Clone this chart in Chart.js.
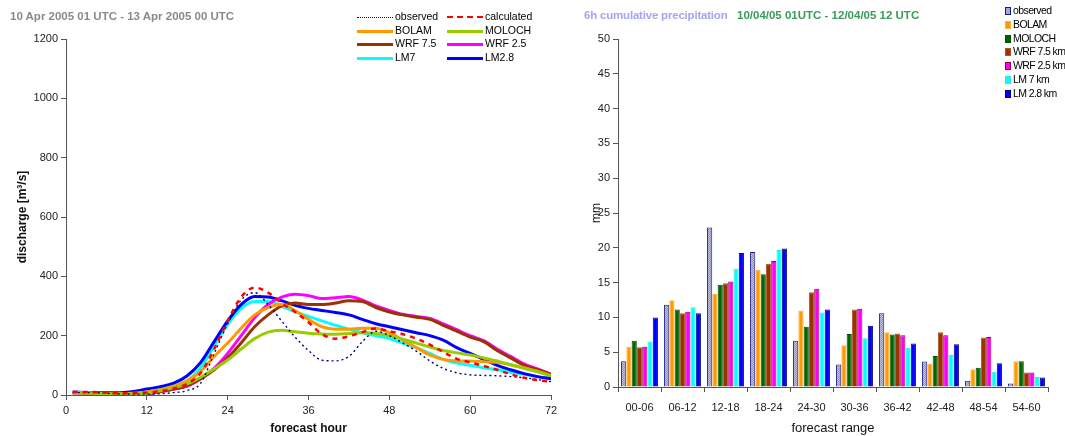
<!DOCTYPE html>
<html>
<head>
<meta charset="utf-8">
<script src="https://cdn.jsdelivr.net/npm/chart.js@4.4.0/dist/chart.umd.min.js"></script>
<style>
  body { margin: 0; background: #fff; font-family: "Liberation Sans", Arial, sans-serif; }
  #wrap { position: relative; width: 1065px; height: 436px; overflow: hidden; }
  #c1 { position: absolute; left: 0; top: 0; }
  #c2 { position: absolute; left: 565px; top: 0; }
  .title { position: absolute; font-weight: bold; font-size: 11.5px; white-space: nowrap; }
  .lg { position: absolute; font-size: 10.5px; color: #000; white-space: nowrap; line-height: 12px; }
  .lg .smp { display: inline-block; vertical-align: middle; width: 36px; margin-right: 2px; }
  .lg2 { position: absolute; font-size: 10.5px; color: #000; white-space: nowrap; line-height: 12px; letter-spacing: -0.6px; }
  .lg2 .sq { display: inline-block; width: 4px; height: 6px; margin-right: 2px; border: 1px solid #000; vertical-align: -1px; }
</style>
</head>
<body>
<div id="wrap">
  <canvas id="c1" width="565" height="436"></canvas>
  <canvas id="c2" width="500" height="436"></canvas>
  <div class="title" style="left:10px;top:10px;color:#8a8a8a;">10 Apr 2005 01 UTC - 13 Apr 2005 00 UTC</div>
  <div class="title" style="left:584px;top:9px;color:#a5a5f0;letter-spacing:-0.2px;">6h cumulative precipitation</div>
  <div class="title" style="left:737px;top:9px;color:#3a9a5c;">10/04/05 01UTC - 12/04/05 12 UTC</div>
  <div id="leg1"></div>
  <div id="leg2"></div>
</div>
<script>
// discharge, forecast hours
const hours = [1, 4, 8, 12, 16, 18, 20, 22, 24, 26, 28, 30, 32, 34, 36, 38, 40, 42, 44, 46, 48, 50, 52, 54, 56, 58, 60, 62, 64, 66, 68, 70, 72];
const observed   = [8, 8, 4, 3, 8, 15, 40, 140, 240, 320, 345, 305, 250, 195, 150, 117, 115, 130, 180, 215, 200, 175, 148, 115, 90, 75, 68, 66, 65, 62, 58, 52, 45];
const calculated = [10, 10, 6, 8, 22, 38, 75, 155, 250, 330, 362, 345, 310, 280, 245, 205, 190, 198, 212, 224, 215, 205, 190, 170, 145, 122, 110, 98, 85, 70, 58, 50, 45];
const bolam      = [8, 6, 4, 10, 30, 48, 80, 130, 175, 225, 270, 295, 305, 285, 255, 230, 222, 222, 225, 225, 210, 185, 160, 135, 120, 115, 115, 112, 110, 102, 92, 80, 65];
const moloch     = [8, 6, 3, 6, 25, 38, 60, 88, 118, 155, 190, 212, 218, 213, 208, 206, 205, 207, 210, 208, 200, 188, 175, 162, 150, 142, 135, 125, 115, 102, 90, 78, 65];
const wrf75      = [8, 6, 3, 5, 20, 32, 55, 85, 125, 175, 230, 270, 300, 310, 305, 305, 310, 318, 315, 295, 280, 270, 262, 255, 235, 215, 195, 180, 150, 125, 100, 85, 70];
const wrf25      = [8, 6, 3, 5, 20, 30, 55, 90, 140, 200, 260, 305, 330, 340, 335, 325, 328, 332, 320, 300, 285, 272, 265, 258, 240, 220, 200, 183, 155, 130, 105, 88, 70];
const lm7        = [8, 6, 4, 10, 32, 48, 92, 165, 238, 292, 315, 315, 300, 280, 265, 250, 235, 222, 210, 200, 190, 175, 160, 140, 120, 108, 100, 92, 85, 77, 70, 62, 55];
const lm28       = [10, 8, 8, 20, 40, 65, 110, 180, 250, 305, 332, 330, 318, 302, 292, 285, 278, 270, 255, 240, 230, 220, 210, 200, 185, 160, 140, 120, 100, 85, 72, 62, 55];

// 6h precipitation (mm)
const ranges = ['00-06', '06-12', '12-18', '18-24', '24-30', '30-36', '36-42', '42-48', '48-54', '54-60'];
const pObs   = [3.7, 11.8, 22.9, 19.4, 6.65, 3.25, 10.6, 3.65, 0.9, 0.5];
const pBolam = [5.8, 12.45, 13.35, 16.85, 11.0, 6.0, 7.85, 3.35, 2.55, 3.7];
const pMoloch= [6.65, 11.15, 14.7, 16.2, 8.65, 7.6, 7.55, 4.45, 2.75, 3.7];
const pWrf75 = [5.7, 10.6, 14.9, 17.7, 13.6, 11.15, 7.7, 7.85, 7.1, 2.1];
const pWrf25 = [5.8, 10.8, 15.15, 18.1, 14.1, 11.25, 7.45, 7.45, 7.2, 2.1];
const pLm7   = [6.55, 11.45, 17.0, 19.7, 10.7, 7.0, 5.65, 4.6, 2.2, 1.45];
const pLm28  = [10.0, 10.6, 19.25, 19.9, 11.15, 8.8, 6.25, 6.15, 3.4, 1.35];

const font = "'Liberation Sans', Arial, sans-serif";
Chart.defaults.font.family = font;
Chart.defaults.color = '#222';

function pts(vals) { return hours.map((h, i) => ({ x: h, y: vals[i] })); }
function line(label, vals, color, width, dash) {
  return { label, data: pts(vals), borderColor: color, backgroundColor: color, borderWidth: width,
    borderDash: dash || [], pointRadius: 0, cubicInterpolationMode: 'monotone', fill: false };
}

const lineSets = [
  line('observed', observed, '#000080', 1.4, [2, 3]),
  line('calculated', calculated, '#ff0000', 2.5, [5, 5]),
  line('BOLAM', bolam, '#ff9900', 3),
  line('MOLOCH', moloch, '#99cc00', 3),
  line('WRF 7.5', wrf75, '#993300', 3),
  line('WRF 2.5', wrf25, '#ff00ff', 3),
  line('LM7', lm7, '#00ffff', 3),
  line('LM2.8', lm28, '#0000ff', 3)
];
// draw order: reference has blue and cyan on top
const drawOrder = [1, 0, 3, 2, 4, 5, 7, 6];
lineSets.forEach((d, i) => { d.order = drawOrder[i]; });

const plain = v => String(v);

new Chart(document.getElementById('c1'), {
  type: 'line',
  data: { datasets: lineSets },
  options: {
    responsive: false, animation: false,
    layout: { padding: { left: 0, top: 39, right: 14, bottom: 0 } },
    plugins: { legend: { display: false }, tooltip: { enabled: false } },
    scales: {
      x: {
        type: 'linear', min: 0, max: 72,
        ticks: { stepSize: 12, font: { size: 11 }, color: '#222', padding: 4, callback: plain },
        grid: { drawOnChartArea: false, tickLength: 5, color: '#555' },
        border: { color: '#555' },
        title: { display: true, text: 'forecast hour', font: { size: 12, weight: 'bold' }, color: '#111', padding: 0 },
        afterFit(s) { s.height = 41; }
      },
      y: {
        min: 0, max: 1200,
        ticks: { stepSize: 200, font: { size: 11 }, color: '#222', padding: 3, callback: plain },
        grid: { drawOnChartArea: false, tickLength: 5, color: '#555' },
        border: { color: '#555' },
        title: { display: true, text: 'discharge [m³/s]', font: { size: 12, weight: 'bold' }, color: '#111', padding: { top: 15, bottom: 0 } },
        afterFit(s) { s.width = 66; }
      }
    }
  }
});

// dotted fill for observed bars
const pc = document.createElement('canvas');
pc.width = 2; pc.height = 2;
const px = pc.getContext('2d');
px.fillStyle = '#c4c4e6'; px.fillRect(0, 0, 2, 2);
px.fillStyle = '#8c8cc0'; px.fillRect(0, 0, 1, 1); px.fillRect(1, 1, 1, 1);
const obsPattern = px.createPattern(pc, 'repeat');

function bar(label, vals, fill, border) {
  return { label, data: vals, backgroundColor: fill, borderColor: border, borderWidth: 1,
    categoryPercentage: 0.86, barPercentage: 0.98 };
}
const barSets = [
  bar('observed', pObs, obsPattern, '#1a1a8a'),
  bar('BOLAM', pBolam, '#ff9900', '#ffb040'),
  bar('MOLOCH', pMoloch, '#006600', '#004d00'),
  bar('WRF 7.5 km', pWrf75, '#993300', '#b05a30'),
  bar('WRF 2.5 km', pWrf25, '#ff00ff', '#99003d'),
  bar('LM 7 km', pLm7, '#00ffff', '#40e0e0'),
  bar('LM 2.8 km', pLm28, '#0000ff', '#00007a')
];

new Chart(document.getElementById('c2'), {
  type: 'bar',
  data: { labels: ranges, datasets: barSets },
  options: {
    responsive: false, animation: false,
    layout: { padding: { left: 0, top: 39, right: 17, bottom: 0 } },
    plugins: { legend: { display: false }, tooltip: { enabled: false } },
    scales: {
      x: {
        ticks: { font: { size: 11 }, color: '#222', padding: 9 },
        grid: { drawOnChartArea: false, tickLength: 5, color: '#555' },
        border: { color: '#555' },
        title: { display: true, text: 'forecast range', font: { size: 13 }, color: '#111', padding: 0 },
        afterFit(s) { s.height = 49; }
      },
      y: {
        min: 0, max: 50,
        ticks: { stepSize: 5, font: { size: 11 }, color: '#222', padding: 3 },
        grid: { drawOnChartArea: false, tickLength: 5, color: '#555' },
        border: { color: '#555' },
        title: { display: true, text: 'mm', font: { size: 12 }, color: '#111', padding: { top: 24, bottom: 0 } },
        afterFit(s) { s.width = 53; }
      }
    }
  }
});

// legend for discharge panel, two columns
const leg1 = document.getElementById('leg1');
const rowY = [10, 24, 37, 51];
lineSets.forEach((d, i) => {
  const el = document.createElement('div');
  el.className = 'lg';
  el.style.left = (i % 2 === 0 ? 357 : 447) + 'px';
  el.style.top = rowY[Math.floor(i / 2)] + 'px';
  const style = d.label === 'observed' ? '1.5px dotted #000080'
    : d.label === 'calculated' ? '2px dashed #ff0000' : '3px solid ' + d.borderColor;
  el.innerHTML = '<span class="smp" style="border-top:' + style + '"></span>' + d.label;
  leg1.appendChild(el);
});

// legend for precipitation panel
const leg2 = document.getElementById('leg2');
const legFill = ['#a8a8d8', '#ff9900', '#006600', '#993300', '#ff00ff', '#00ffff', '#0000ff'];
barSets.forEach((d, i) => {
  const el = document.createElement('div');
  el.className = 'lg2';
  el.style.left = '1005px';
  el.style.top = (4 + i * 13.8) + 'px';
  el.innerHTML = '<span class="sq" style="background:' + legFill[i] + ';border-color:' + d.borderColor + '"></span>' + d.label;
  leg2.appendChild(el);
});
</script>
</body>
</html>
